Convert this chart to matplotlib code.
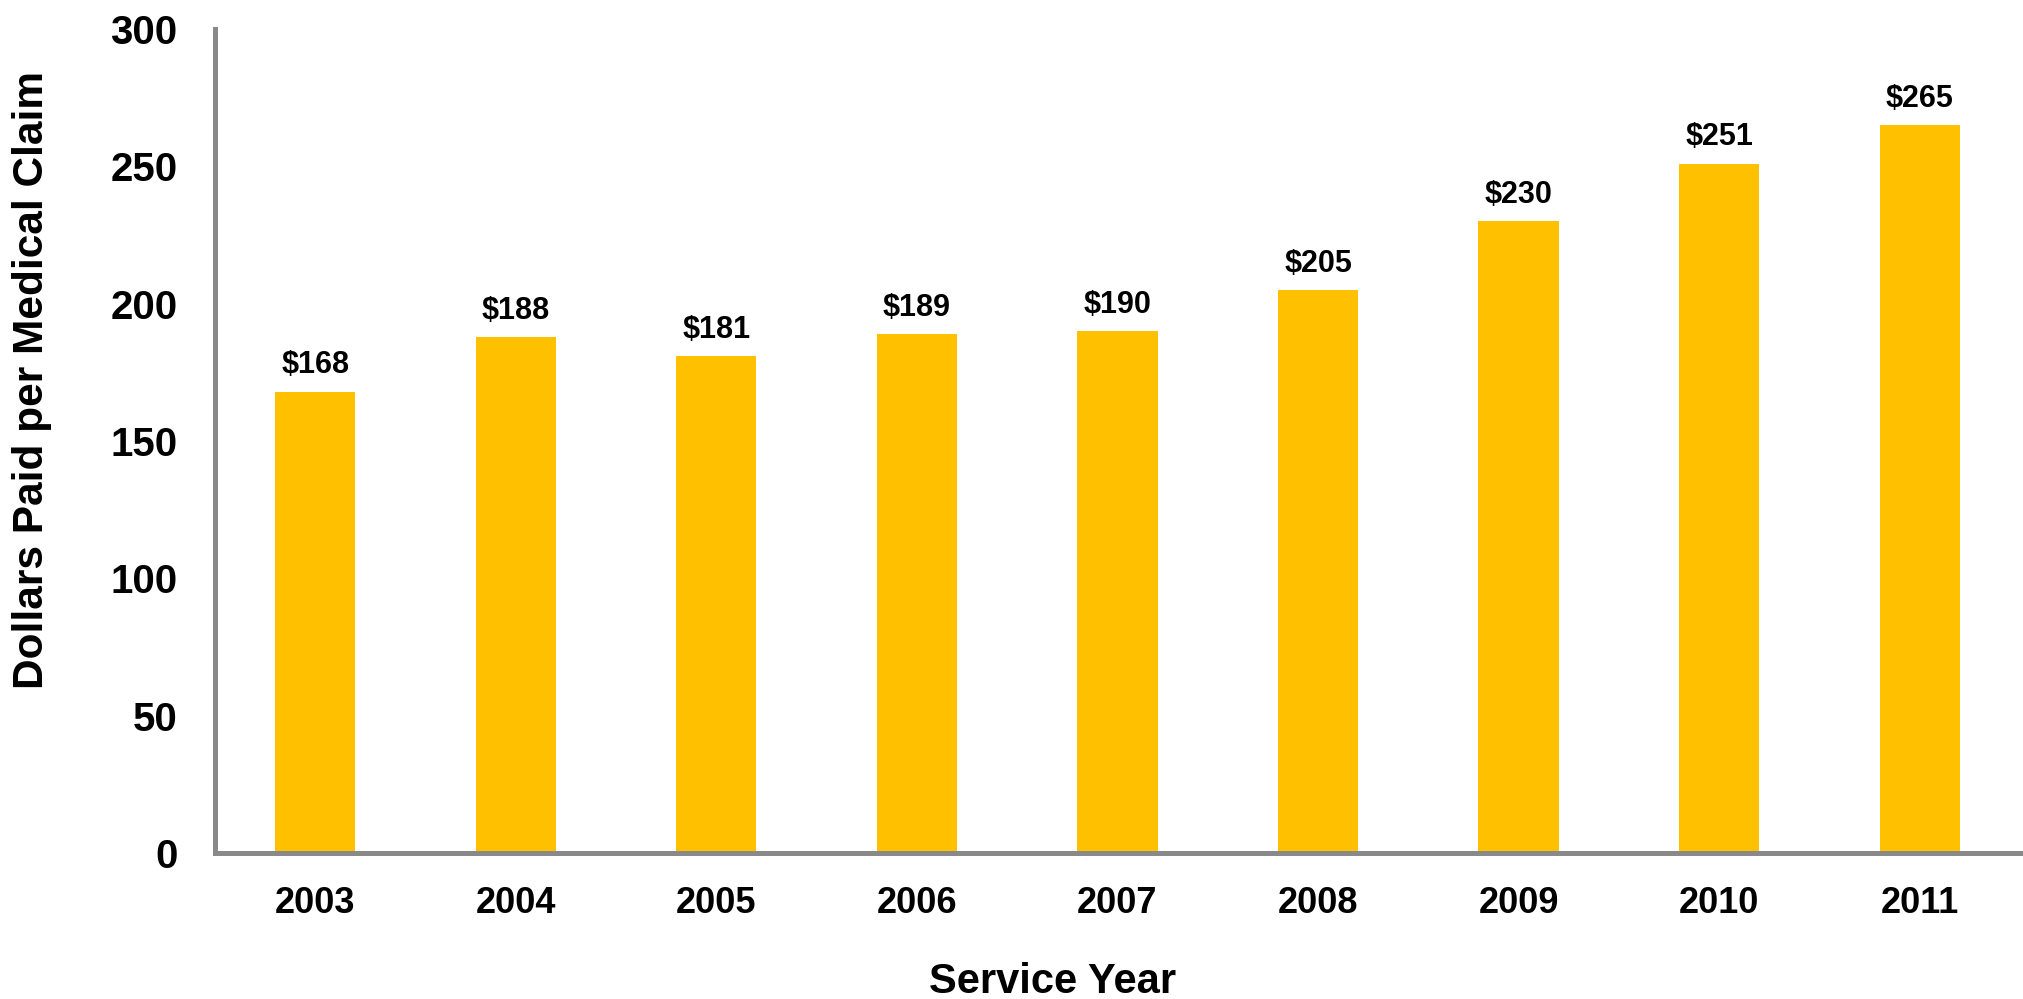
import matplotlib
matplotlib.use('Agg')
import matplotlib.pyplot as plt
import numpy as np

plt.rcParams['font.family'] = ['Liberation Sans', 'DejaVu Sans']
plt.rcParams['font.weight'] = 'bold'

years = ['2003', '2004', '2005', '2006', '2007', '2008', '2009', '2010', '2011']
paid = [168, 188, 181, 189, 190, 205, 230, 251, 265]
y_ticks = [0, 50, 100, 150, 200, 250, 300]

bar_color = '#FFC000'
spine_color = '#898989'

fig = plt.figure(figsize=(20.24, 9.99), dpi=100)
ax = fig.add_axes([215 / 2024, 146 / 999, 1805 / 2024, 824 / 999])

x = np.arange(len(years))
bars = ax.bar(x, paid, width=0.4, color=bar_color, zorder=2)

for xi, v in zip(x, paid):
    ax.annotate(f'${v}', (xi, v), xytext=(0, 8), textcoords='offset points',
                ha='center', va='bottom', fontsize=22, fontweight='bold')

ax.set_xlim(-0.5, len(years) - 0.5)
ax.set_ylim(0, 300)
ax.set_xticks(x)
ax.set_xticklabels(years)
ax.set_yticks(y_ticks)

ax.tick_params(axis='x', length=0, pad=24, labelsize=26)
ax.tick_params(axis='y', length=0, pad=27, labelsize=29)

for side in ['top', 'right']:
    ax.spines[side].set_visible(False)
for side in ['left', 'bottom']:
    ax.spines[side].set_color(spine_color)
    ax.spines[side].set_linewidth(3.6)
    ax.spines[side].set_capstyle('projecting')

ax.set_xlabel('Service Year', fontsize=30, fontweight='bold', va='baseline')
ax.xaxis.set_label_coords((1053 - 215) / 1805, (6 - 146) / 824)
ax.set_ylabel('Dollars Paid per Medical Claim', fontsize=30.5, fontweight='bold', va='center')
ax.yaxis.set_label_coords((32 - 215) / 1805, (999 - 380 - 146) / 824)

fig.savefig('out.png', dpi=100)
